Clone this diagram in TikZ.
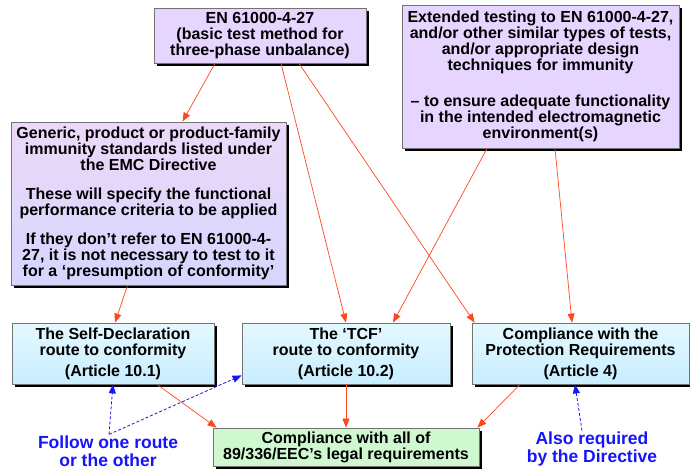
\documentclass[tikz,border=0pt]{standalone}
\usepackage{fontspec}
\setmainfont{Liberation Sans}
\usepackage{tikz}
\usetikzlibrary{calc}
\usetikzlibrary{arrows.meta}
\usetikzlibrary{shadows}
\usetikzlibrary{positioning}
\usepackage{xcolor}
\definecolor{lilac}{RGB}{229,213,255}
\definecolor{lilactop}{RGB}{236,216,248}
\definecolor{lilacbot}{RGB}{214,214,255}
\definecolor{skytop}{RGB}{228,248,255}
\definecolor{skybot}{RGB}{200,238,255}
\definecolor{mint}{RGB}{208,248,208}
\definecolor{arrowred}{RGB}{255,70,30}
\definecolor{routeblue}{RGB}{20,20,255}

\begin{document}
\begin{tikzpicture}[x=1pt,y=-1pt,
			box/.style={rectangle,draw=black!55,line width=0.8pt,align=center,inner sep=2pt,
				font=\bfseries\fontsize{16}{16}\selectfont,
				drop shadow={shadow xshift=3pt,shadow yshift=-3pt,fill=black,opacity=1}},
			P/.style={box,fill=lilac},
			G/.style={box,top color=lilactop,bottom color=lilacbot},
			R/.style={box,top color=skytop,bottom color=skybot},
			C/.style={box,fill=mint},
			note/.style={align=center,text=routeblue,inner sep=1pt,
				font=\bfseries\fontsize{17.5}{18}\selectfont},
			redarrow/.style={draw=arrowred,line width=0.7pt,-{Triangle[length=9pt,width=7pt]}},
			bluearrow/.style={draw=routeblue,line width=0.8pt,dash pattern=on 3pt off 2pt,-{Triangle[length=9pt,width=7pt]}},
			]

			%frame
			\useasboundingbox (0,0) rectangle (690,469);

			%top boxes
			\node[P,minimum width=212,minimum height=55] (en) at (260,35.5)
				{EN 61000-4-27\\(basic test method for\\three-phase unbalance)};
			\node[P,minimum width=277,minimum height=143] (ext) at (540.5,76.5)
				{Extended testing to EN 61000-4-27,\\and/or other similar types of tests,\\and/or appropriate design\\techniques for immunity\\[20pt]
				– to ensure adequate functionality\\in the intended electromagnetic\\environment(s)};
			\node[G,minimum width=275,minimum height=163] (gen) at (148.5,203.5)
				{Generic, product or product-family\\immunity standards listed under\\the EMC Directive\\[13pt]
				These will specify the functional\\performance criteria to be applied\\[13pt]
				If they don’t refer to EN 61000-4-\\27, it is not necessary to test to it\\for a ‘presumption of conformity’};

			%routes
			\node[R,minimum width=202,minimum height=61] (self) at (113,353.5)
				{The Self-Declaration\\route to conformity\\[5pt](Article 10.1)};
			\node[R,minimum width=208,minimum height=61] (tcf) at (346,353.5)
				{The ‘TCF’\\route to conformity\\[5pt](Article 10.2)};
			\node[R,minimum width=217,minimum height=61] (prot) at (580.5,353.5)
				{Compliance with the\\Protection Requirements\\[5pt](Article 4)};

			%result
			\node[C,minimum width=266,minimum height=38] (comp) at (346,447)
				{Compliance with all of\\89/336/EEC’s legal requirements};

			%notes
			\node[note] (follow) at (108,451) {Follow one route\\or the other};
			\node[note] (also) at (592,449) {Also required\\by the Directive};

			%red arrows
			\draw[redarrow] ([xshift=-45pt]en.south) -- ([xshift=34pt]gen.north);
			\draw[redarrow] ([xshift=21pt]en.south) -- (tcf.north);
			\draw[redarrow] ([xshift=39pt]en.south) -- ([xshift=3pt]prot.north west);
			\draw[redarrow] ([xshift=-53.5pt]ext.south) -- ([xshift=47pt]tcf.north);
			\draw[redarrow] ([xshift=14.5pt]ext.south) -- ([xshift=-8.5pt]prot.north);
			\draw[redarrow] ([xshift=-21pt]gen.south) -- ([xshift=2pt]self.north);
			\draw[redarrow] ([xshift=44pt]self.south) -- ([xshift=4pt]comp.north west);
			\draw[redarrow] (tcf.south) -- (comp.north);
			\draw[redarrow] ([xshift=-60.5pt]prot.south) -- ([xshift=-2pt]comp.north east);

			%blue arrows
			\draw[bluearrow] ([xshift=1pt]follow.north) -- (self.south);
			\draw[bluearrow] ([xshift=1pt]follow.north) -- ([yshift=9pt]tcf.south west);
			\draw[bluearrow] ([xshift=-10pt]also.north) -- ([xshift=-5.5pt]prot.south);

	\end{tikzpicture}
\end{document}
